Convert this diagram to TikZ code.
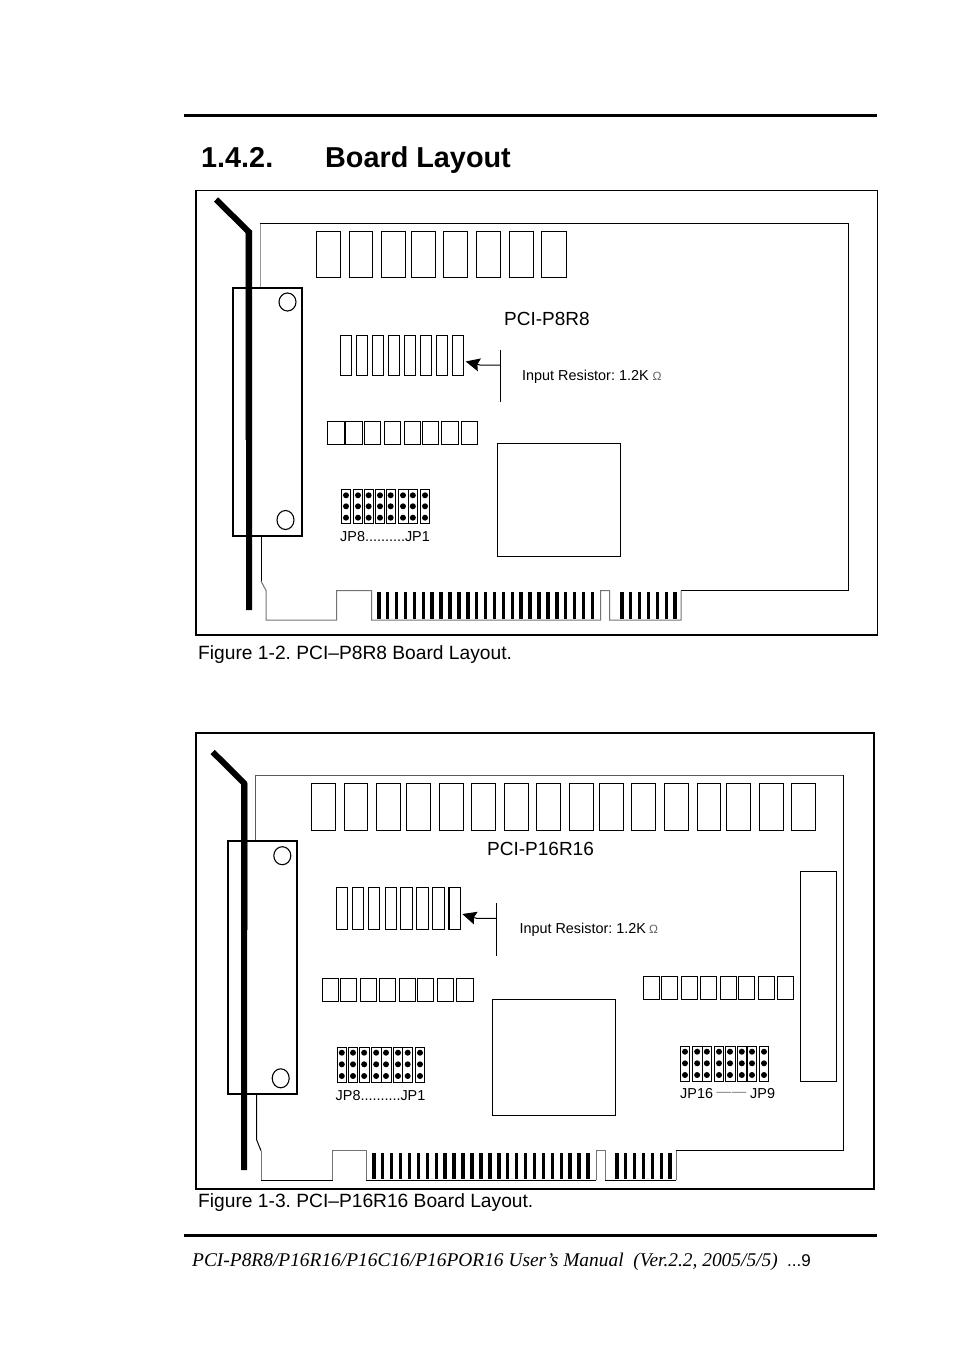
\documentclass[tikz,border=0pt]{standalone}
\usepackage{fontspec}
\setmainfont{Liberation Sans}
\newfontfamily\footerfont{Liberation Serif}
\usetikzlibrary{arrows.meta}
\frenchspacing
\tikzset{
	frameline/.style={line width=1.8pt},
	partline/.style={line width=1pt},
	chipline/.style={line width=1pt},
	edgeline/.style={line width=1pt, black!55},
	bracketline/.style={line width=6pt},
	stripline/.style={line width=1.5pt, black!40},
	pointer/.style={line width=1pt, -{Stealth[length=14pt, width=13pt, inset=2pt]}},
	titletext/.style={anchor=base west, inner sep=0pt, font=\bfseries\fontsize{28.8}{29}\selectfont},
	toptext/.style={anchor=west, inner sep=0pt, font=\fontsize{19}{19}\selectfont},
	captiontext/.style={anchor=west, inner sep=0pt, font=\fontsize{19.2}{19}\selectfont},
	smalltext/.style={anchor=west, inner sep=0pt, font=\fontsize{14.4}{14}\selectfont},
	omegatext/.style={anchor=west, inner sep=0pt, text=black!60, font=\fontsize{12}{12}\selectfont},
}
% one jumper: left, right, top, bottom, then the three pin rows
\def\jumper(#1,#2,#3,#4)(#5,#6,#7){
	\draw[partline] (#1, #3) rectangle (#2, #4);
	\fill ({(#1+#2)/2}, #5) circle (3pt);
	\fill ({(#1+#2)/2}, #6) circle (3pt);
	\fill ({(#1+#2)/2}, #7) circle (3pt);
}

\begin{document}
\begin{tikzpicture}[x=1pt, y=-1pt]
		%%%%% PAGE %%%%%
		\useasboundingbox (0, 0) rectangle (954, 1351);
		\draw[line width=3pt] (184, 115.5) -- (877, 115.5);
		\draw[line width=3pt] (184, 1235.5) -- (877, 1235.5);
		\node[titletext] (secnum) at (201, 167.5) {1.4.2.};
		\node[titletext] (sectitle) at (325, 167.5) {Board Layout};
		\node[anchor=base west, inner sep=0pt, font=\footerfont\itshape\fontsize{19.4}{20}\selectfont] (footer) at (192, 1266) {PCI-P8R8/P16R16/P16C16/P16POR16 User’s Manual\ \ (Ver.2.2, 2005/5/5)};
		\node[anchor=base east, inner sep=0pt, font=\fontsize{17}{17}\selectfont] (pagenum) at (811, 1266) {...9};
		
		%%%%% FIRST BOARD %%%%%
		\draw[line width=1.6pt] (196, 190.7) rectangle (877.3, 635);
		
		\draw[line width=1pt, black!40] (260, 288) -- (260, 223.3);
		\draw[partline] (259.5, 223.3) -- (848.3, 223.3) -- (848.3, 590.5) -- (681, 590.5);
		\draw[partline] (261, 536) -- (261, 581);
		\draw[edgeline] (261, 581) -- (266, 590.5) -- (266, 620) -- (336.7, 620) -- (336.7, 590.5) -- (371.7, 590.5) -- (371.7, 620) -- (600.7, 620) -- (600.7, 590.5) -- (609.7, 590.5) -- (609.7, 620) -- (681, 620) -- (681, 590.5);
		
		\draw[stripline] (245.7, 232) -- (245.7, 440);
		\draw[bracketline] (249, 610) -- (249, 232) -- (216, 199.5);
		
		\draw[frameline] (233, 288) rectangle (302, 536);
		\draw[line width=1.1pt] (287.5, 302) circle (8.5pt and 9pt);
		\draw[line width=1.1pt] (285.5, 520) circle (8.5pt and 9.5pt);
		
		\foreach \xa/\xb in {316/340.7, 349.3/372.7, 381/405.7, 411/435.7, 443.3/467.7, 476/500.7, 509/533.3, 541.3/566}
			\draw[partline] (\xa, 231) rectangle (\xb, 277);
		
		\foreach \xa/\xb in {340/351.3, 356/367.3, 372/383.3, 388/399.3, 404/415.3, 420/431.3, 436/447.3, 452/463.7}
			\draw[partline] (\xa, 335) rectangle (\xb, 375.3);
		
		\draw[partline] (500.3, 350) -- (500.3, 401.7);
		\draw[pointer] (500.3, 365) -- (480, 365) -- (465.7, 361.5);
		
		\foreach \xa/\xb in {327.3/344, 345.3/362, 364/380.7, 384.3/400.7, 404.3/420.7, 422.3/438.7, 441.3/458.7, 461.3/477.7}
			\draw[partline] (\xa, 421.7) rectangle (\xb, 444.3);
		
		\draw[chipline] (497.3, 443.3) rectangle (620.3, 556.3);
		
		\foreach \xa/\xb in {341.3/350.7, 353.3/362.7, 364/373.3, 375.3/384.7, 386/395.3, 398/408, 408/417.7, 420.3/429.7}
			{\jumper(\xa,\xb,489.3,523.3)(495.3,506.3,517.7)}
		
		\foreach \xt in {0, ..., 24}
			\fill ({377+8.9*\xt}, 592) rectangle ({380.5+8.9*\xt}, 618.5);
		\foreach \xt in {0, ..., 6}
			\fill ({620+8.9*\xt}, 592) rectangle ({623.5+8.9*\xt}, 618.5);
		
		\node[toptext] (boardone) at (504, 318.5) {PCI-P8R8};
		\node[smalltext] (inputone) at (522, 376.5) {Input Resistor: 1.2K};
		\node[omegatext] (omegaone) at (652.5, 376) {Ω};
		\node[smalltext] (jumpone) at (340, 537) {JP8..........JP1};
		\node[captiontext] (captionone) at (198, 655) {Figure 1-2. PCI–P8R8 Board Layout.};
		
		%%%%% SECOND BOARD %%%%%
		\draw[frameline] (196, 733.3) rectangle (873.7, 1188.7);
		
		\draw[line width=1pt, black!65] (255, 841) -- (255, 775.3) -- (843.3, 775.3);
		\draw[partline] (843.3, 775.3) -- (843.3, 1150.7) -- (676, 1150.7);
		\draw[partline] (256.7, 1094) -- (256.7, 1140) -- (261, 1150.7);
		\draw[edgeline] (261, 1150.7) -- (261, 1180);
		\draw[partline] (261, 1180) -- (332.7, 1180);
		\draw[edgeline] (332.7, 1180) -- (332.7, 1150.7) -- (366, 1150.7) -- (366, 1180);
		\draw[partline] (366, 1180) -- (596, 1180);
		\draw[edgeline] (596, 1180) -- (596, 1150.7) -- (605.3, 1150.7) -- (605.3, 1180);
		\draw[partline] (605.3, 1180) -- (676, 1180);
		\draw[edgeline] (676, 1180) -- (676, 1150.7);
		
		\draw[stripline] (247.7, 783) -- (247.7, 930);
		\draw[bracketline] (244, 1170) -- (244, 783) -- (212.7, 752);
		
		\draw[frameline] (228, 840.7) rectangle (297.3, 1094);
		\draw[line width=1.1pt] (282.3, 855.7) circle (8.5pt and 9pt);
		\draw[line width=1.1pt] (280.7, 1078.3) circle (8.5pt and 9.5pt);
		
		\foreach \xa/\xb in {311/335.7, 344.3/367.7, 376/400.7, 406/430.7, 439/463.7, 471/495.7, 504.3/528.7, 536/560.7, 569.3/593.7, 599/623.7, 631.3/655.7, 664/688.7, 697/720.3, 726/750.3, 759/783.7, 791/815.7}
			\draw[partline] (\xa, 783.3) rectangle (\xb, 830.3);
		
		\foreach \xa/\xb in {336.7/347.3, 352.3/363.3, 368.7/379.7, 385.3/396.3, 400.7/412.3, 416.7/428.3, 432.7/444.3, 449/460.7}
			\draw[line width=1.3pt] (\xa, 887.7) rectangle (\xb, 929.3);
		
		\draw[partline] (496.7, 903.3) -- (496.7, 956);
		\draw[pointer] (496.7, 918.3) -- (476.5, 918.3) -- (462.3, 914);
		
		\foreach \xa/\xb in {322.3/338.3, 340/356, 360/376, 379.3/395.3, 399.3/415.3, 417.3/433.3, 437.3/453.3, 456.7/473}
			\draw[partline] (\xa, 978.3) rectangle (\xb, 1001);
		\foreach \xa/\xb in {643.3/659.3, 661/677.3, 681/697, 700.3/716.3, 720/736, 738/754, 758/774, 777.3/793.3}
			\draw[partline] (\xa, 976.7) rectangle (\xb, 999.7);
		
		\draw[chipline] (492.3, 999.3) rectangle (615.7, 1115.3);
		\draw[chipline] (800.3, 871.3) rectangle (836.7, 1081.3);
		
		\foreach \xa/\xb in {337.3/346.3, 348.3/357.7, 359.3/369, 371.3/381, 381/391, 393.3/402.7, 402.7/412.7, 415.3/424.7}
			{\jumper(\xa,\xb,1047.3,1082.3)(1052.7,1064.3,1076)}
		\foreach \xa/\xb in {680.3/689.7, 692.3/702, 702/711.7, 714.3/723.7, 725/735, 737.3/746.3, 747.3/756.7, 759.3/768.7}
			{\jumper(\xa,\xb,1046.3,1081.7)(1051.7,1063.3,1075)}
		
		\foreach \xt in {0, ..., 24}
			\fill ({372+8.93*\xt}, 1152.7) rectangle ({375.5+8.93*\xt}, 1178.7);
		\foreach \xt in {0, ..., 6}
			\fill ({615+8.9*\xt}, 1152.7) rectangle ({618.5+8.9*\xt}, 1178.7);
		
		\node[toptext] (boardtwo) at (487, 848.5) {PCI-P16R16};
		\node[smalltext] (inputtwo) at (519.3, 929.5) {Input Resistor: 1.2K};
		\node[omegatext] (omegatwo) at (649, 929) {Ω};
		\node[smalltext] (jumptwo) at (335.5, 1096) {JP8..........JP1};
		\node[smalltext] (jumphigh) at (680, 1094) {JP16};
		\node[smalltext, text=black!50] (jumpdash) at (716.5, 1094) {—\kern0.8pt—};
		\node[smalltext] (jumplow) at (750, 1094) {JP9};
		\node[captiontext] (captiontwo) at (198, 1203) {Figure 1-3. PCI–P16R16 Board Layout.};
		%%%%% END %%%%%
	\end{tikzpicture}
\end{document}
